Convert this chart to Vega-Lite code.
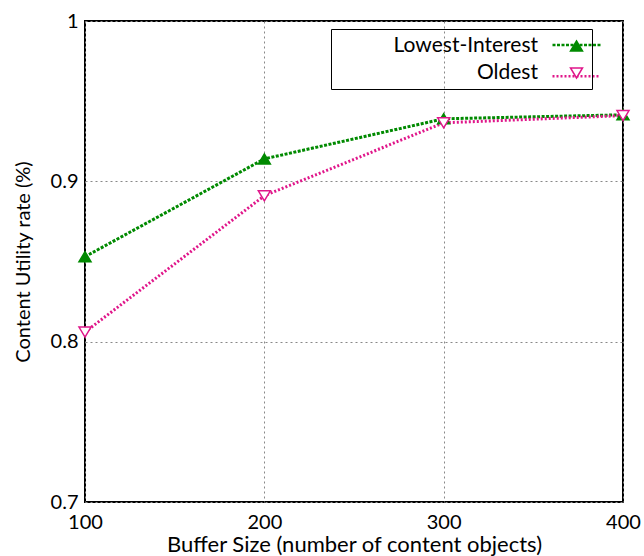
{
  "$schema": "https://vega.github.io/schema/vega-lite/v6.json",
  "width": 538,
  "height": 481,
  "autosize": {"type": "none"},
  "padding": {"left": 85, "top": 21, "right": 21, "bottom": 54},
  "background": "white",
  "config": {
    "font": "Lato",
    "view": {"stroke": "black", "strokeWidth": 2},
    "axis": {
      "labelFont": "Lato",
      "labelFontSize": 20,
      "labelColor": "black",
      "titleFont": "Lato",
      "titleFontWeight": "normal",
      "titleColor": "black",
      "ticks": false,
      "domain": false,
      "grid": true,
      "gridColor": "#888888",
      "gridDash": [2, 3],
      "gridWidth": 1,
      "labelFlush": false,
      "labelOverlap": false
    }
  },
  "data": {
    "values": [
      {"buffer": 100, "rate": 0.853, "series": "Lowest-Interest"},
      {"buffer": 200, "rate": 0.914, "series": "Lowest-Interest"},
      {"buffer": 300, "rate": 0.939, "series": "Lowest-Interest"},
      {"buffer": 400, "rate": 0.9415, "series": "Lowest-Interest"},
      {"buffer": 100, "rate": 0.806, "series": "Oldest"},
      {"buffer": 200, "rate": 0.891, "series": "Oldest"},
      {"buffer": 300, "rate": 0.9365, "series": "Oldest"},
      {"buffer": 400, "rate": 0.941, "series": "Oldest"}
    ]
  },
  "encoding": {
    "x": {
      "field": "buffer",
      "type": "quantitative",
      "scale": {"domain": [100, 400], "nice": false, "zero": false},
      "axis": {"values": [100, 200, 300, 400], "title": "Buffer Size (number of content objects)", "titleFontSize": 22, "labelPadding": 10, "titlePadding": 2}
    },
    "y": {
      "field": "rate",
      "type": "quantitative",
      "scale": {"domain": [0.7, 1], "nice": false, "zero": false},
      "axis": {"values": [0.7, 0.8, 0.9, 1], "format": "~g", "title": "Content Utility rate (%)", "titleFontSize": 20, "labelPadding": 7, "titlePadding": 17}
    }
  },
  "layer": [
    {
      "mark": {"type": "line", "strokeWidth": 3},
      "encoding": {
        "color": {
          "field": "series",
          "type": "nominal",
          "scale": {"domain": ["Oldest", "Lowest-Interest"], "range": ["#e0168a", "#008a00"]},
          "legend": {
            "orient": "none",
            "legendX": 252,
            "legendY": -1.5,
            "title": null,
            "direction": "vertical",
            "columns": 1,
            "values": ["Lowest-Interest", "Oldest"],
            "symbolType": "stroke",
            "symbolSize": 2304,
            "symbolStrokeWidth": 2.5,
            "labelAlign": "left",
            "labelOffset": 0,
            "symbolOffset": 214,
            "labelFont": "Lato",
            "labelFontSize": 1,
            "labelOpacity": 0,
            "labelLimit": 400,
            "padding": 0,
            "rowPadding": 0.25
          }
        },
        "strokeDash": {
          "field": "series",
          "type": "nominal",
          "scale": {"domain": ["Oldest", "Lowest-Interest"], "range": [[2, 2], [3, 1.5]]},
          "legend": {
            "orient": "none",
            "legendX": 252,
            "legendY": -1.5,
            "title": null,
            "direction": "vertical",
            "columns": 1,
            "values": ["Lowest-Interest", "Oldest"],
            "symbolType": "stroke",
            "symbolSize": 2304,
            "symbolStrokeWidth": 2.5,
            "labelAlign": "left",
            "labelOffset": 0,
            "symbolOffset": 214,
            "labelFont": "Lato",
            "labelFontSize": 1,
            "labelOpacity": 0,
            "labelLimit": 400,
            "padding": 0,
            "rowPadding": 0.25
          }
        }
      }
    },
    {
      "mark": {"type": "point", "size": 400, "strokeWidth": 1.5, "opacity": 1},
      "encoding": {
        "shape": {
          "field": "series",
          "type": "nominal",
          "scale": {"domain": ["Lowest-Interest", "Oldest"], "range": ["M0,-0.5L0.6,0.5L-0.6,0.5Z", "M0,0.5L0.6,-0.5L-0.6,-0.5Z"]},
          "legend": {
            "orient": "none",
            "legendX": 246,
            "legendY": 8,
            "title": null,
            "direction": "vertical",
            "columns": 1,
            "symbolSize": 400,
            "symbolStrokeWidth": 1.5,
            "labelAlign": "right",
            "labelOffset": -49.5,
            "symbolOffset": 228.5,
            "labelFont": "Lato",
            "labelFontSize": 21,
            "labelColor": "black",
            "labelLimit": 400,
            "strokeColor": "black",
            "padding": 6,
            "rowPadding": 6
          }
        },
        "stroke": {
          "field": "series",
          "type": "nominal",
          "scale": {"domain": ["Lowest-Interest", "Oldest"], "range": ["#008a00", "#e0168a"]},
          "legend": {
            "orient": "none",
            "legendX": 246,
            "legendY": 8,
            "title": null,
            "direction": "vertical",
            "columns": 1,
            "symbolSize": 400,
            "symbolStrokeWidth": 1.5,
            "labelAlign": "right",
            "labelOffset": -49.5,
            "symbolOffset": 228.5,
            "labelFont": "Lato",
            "labelFontSize": 21,
            "labelColor": "black",
            "labelLimit": 400,
            "strokeColor": "black",
            "padding": 6,
            "rowPadding": 6
          }
        },
        "fill": {
          "field": "series",
          "type": "nominal",
          "scale": {"domain": ["Lowest-Interest", "Oldest"], "range": ["#008a00", "white"]},
          "legend": {
            "orient": "none",
            "legendX": 246,
            "legendY": 8,
            "title": null,
            "direction": "vertical",
            "columns": 1,
            "symbolSize": 400,
            "symbolStrokeWidth": 1.5,
            "labelAlign": "right",
            "labelOffset": -49.5,
            "symbolOffset": 228.5,
            "labelFont": "Lato",
            "labelFontSize": 21,
            "labelColor": "black",
            "labelLimit": 400,
            "strokeColor": "black",
            "padding": 6,
            "rowPadding": 6
          }
        }
      }
    }
  ]
}
